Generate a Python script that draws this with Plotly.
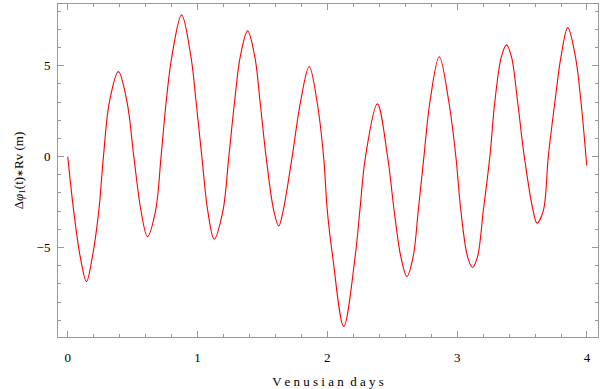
import plotly.graph_objects as go

# points (extrema and level crossings)
days = [0.0, 0.046, 0.096, 0.144, 0.19, 0.239, 0.275, 0.321, 0.39, 0.457,
        0.509, 0.565, 0.614, 0.676, 0.719, 0.758, 0.802, 0.877, 0.949, 0.989,
        1.033, 1.079, 1.128, 1.195, 1.241, 1.285, 1.329, 1.386, 1.441, 1.482,
        1.528, 1.588, 1.626, 1.659, 1.729, 1.793, 1.86, 1.921, 1.971, 2.0,
        2.041, 2.126, 2.214, 2.25, 2.294, 2.385, 2.464, 2.515, 2.566, 2.613,
        2.661, 2.7, 2.744, 2.79, 2.862, 2.936, 2.99, 3.029, 3.08, 3.118,
        3.157, 3.201, 3.252, 3.29, 3.341, 3.38, 3.418, 3.466, 3.517, 3.586,
        3.615, 3.663, 3.702, 3.753, 3.80, 3.852, 3.911, 3.954, 3.998]
dphi = [0.0, -3.0, -5.5, -6.87, -5.5, -3.0, 0.0, 3.0, 4.67, 3.0,
        0.0, -3.0, -4.40, -3.0, 0.0, 3.0, 5.5, 7.79, 5.5, 3.0,
        0.0, -3.0, -4.54, -3.0, 0.0, 3.0, 5.5, 6.91, 5.5, 3.0,
        0.0, -3.0, -3.81, -3.0, 0.0, 3.0, 4.95, 3.0, 0.0, -3.0,
        -5.5, -9.34, -5.5, -3.0, 0.0, 2.90, 0.0, -3.0, -5.5, -6.59,
        -5.5, -3.0, 0.0, 3.0, 5.49, 3.0, 0.0, -3.0, -5.5, -6.10,
        -5.5, -3.0, 0.0, 3.0, 5.5, 6.14, 5.5, 3.0, 0.0, -3.0,
        -3.66, -3.0, 0.0, 3.0, 5.5, 7.09, 5.5, 3.0, -0.49]

x_ticks = [0, 1, 2, 3, 4]
y_ticks = [-5, 0, 5]

fig = go.Figure()
fig.add_trace(go.Scatter(
    x=days, y=dphi, mode='lines',
    line=dict(color='red', width=1.1, shape='spline', smoothing=1.0),
    showlegend=False
))

axis_common = dict(
    showgrid=False, zeroline=False,
    showline=True, linecolor='#999999', linewidth=1, mirror='ticks',
    ticks='inside', ticklen=6, tickcolor='#999999', tickwidth=1,
    tickfont=dict(family='Liberation Serif', size=13, color='black'),
)

fig.update_layout(
    width=600, height=389,
    margin=dict(l=58, r=2, t=4, b=52),
    paper_bgcolor='white', plot_bgcolor='white',
    font=dict(family='Liberation Serif', size=13, color='black'),
    xaxis=dict(
        range=[-0.075, 4.085], tickvals=x_ticks,
        minor=dict(ticks='inside', dtick=0.2, tick0=0, ticklen=3,
                   tickcolor='#999999'),
        ticklabelstandoff=8,
        title=dict(text='V e n u s i a n  d a y s', standoff=14,
                   font=dict(family='Liberation Serif', size=13)),
        **axis_common
    ),
    yaxis=dict(
        range=[-9.92, 8.39], tickvals=y_ticks,
        minor=dict(ticks='inside', dtick=1, tick0=0, ticklen=3,
                   tickcolor='#999999'),
        ticklabelstandoff=4,
        title=dict(text='Δ<i>φ</i><sub>1</sub>(t)<span style="font-size:9px">∗</span>Rv (m)',
                   standoff=10,
                   font=dict(family='Liberation Serif', size=13)),
        **axis_common
    ),
)

# drop the page's default body margin so the figure sits at the window corner
fig.write_html("out.html", config={'displayModeBar': False},
               post_script="document.body.style.margin='0';")
